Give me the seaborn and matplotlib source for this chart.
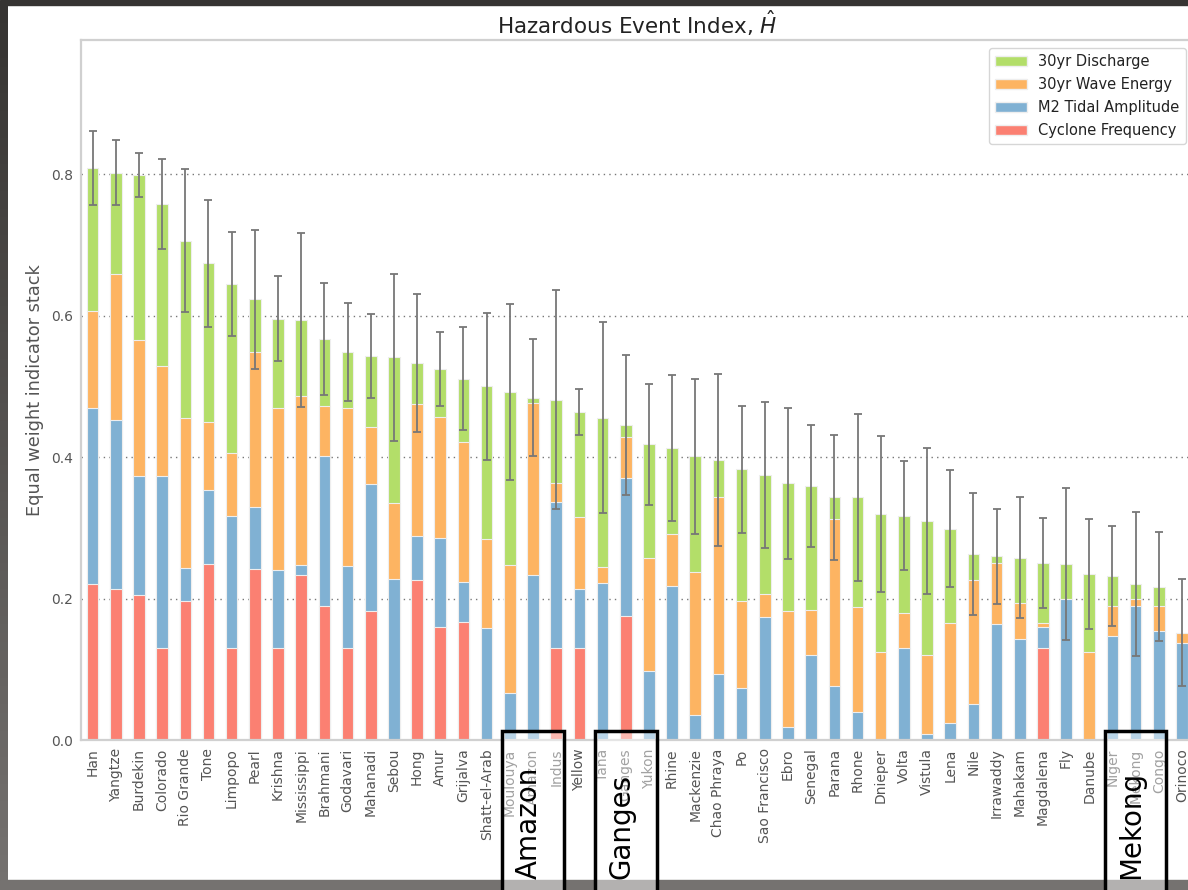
import matplotlib
matplotlib.use("Agg")
import matplotlib.pyplot as plt
import matplotlib.transforms as mtransforms
from matplotlib.colors import LinearSegmentedColormap
from matplotlib.patches import Patch, Rectangle
import numpy as np
import pandas as pd
import seaborn as sns

rivers = ["Han", "Yangtze", "Burdekin", "Colorado", "Rio Grande", "Tone", "Limpopo",
          "Pearl", "Krishna", "Mississippi", "Brahmani", "Godavari", "Mahanadi", "Sebou",
          "Hong", "Amur", "Grijalva", "Shatt-el-Arab", "Moulouya", "Amazon", "Indus",
          "Yellow", "Tana", "Ganges", "Yukon", "Rhine", "Mackenzie", "Chao Phraya", "Po",
          "Sao Francisco", "Ebro", "Senegal", "Parana", "Rhone", "Dnieper", "Volta",
          "Vistula", "Lena", "Nile", "Irrawaddy", "Mahakam", "Magdalena", "Fly", "Danube",
          "Niger", "Mekong", "Congo", "Orinoco"]

cyclone = [0.220, 0.213, 0.205, 0.130, 0.197, 0.249, 0.130, 0.242, 0.130, 0.234,
           0.190, 0.130, 0.182, 0.0, 0.226, 0.160, 0.167, 0.0, 0.0, 0.0,
           0.130, 0.130, 0.0, 0.175, 0.0, 0.0, 0.0, 0.0, 0.0, 0.0,
           0.0, 0.0, 0.0, 0.0, 0.0, 0.0, 0.0, 0.0, 0.0, 0.0,
           0.0, 0.130, 0.0, 0.0, 0.0, 0.0, 0.0, 0.0]
tidal = [0.250, 0.239, 0.169, 0.244, 0.046, 0.105, 0.187, 0.088, 0.110, 0.014,
         0.211, 0.116, 0.180, 0.228, 0.063, 0.126, 0.056, 0.158, 0.066, 0.234,
         0.207, 0.083, 0.222, 0.196, 0.098, 0.218, 0.035, 0.094, 0.073, 0.174,
         0.018, 0.120, 0.077, 0.039, 0.0, 0.130, 0.008, 0.024, 0.051, 0.164,
         0.143, 0.030, 0.200, 0.0, 0.147, 0.190, 0.154, 0.137]
wave = [0.137, 0.207, 0.192, 0.155, 0.213, 0.096, 0.089, 0.219, 0.229, 0.239,
        0.071, 0.223, 0.081, 0.107, 0.186, 0.171, 0.199, 0.126, 0.182, 0.243,
        0.027, 0.102, 0.022, 0.058, 0.160, 0.074, 0.202, 0.249, 0.124, 0.032,
        0.165, 0.064, 0.235, 0.149, 0.124, 0.049, 0.112, 0.142, 0.175, 0.086,
        0.051, 0.006, 0.0, 0.124, 0.043, 0.010, 0.036, 0.015]
discharge = [0.202, 0.143, 0.233, 0.229, 0.250, 0.224, 0.239, 0.074, 0.127, 0.107,
             0.095, 0.080, 0.100, 0.206, 0.058, 0.068, 0.089, 0.216, 0.244, 0.007,
             0.117, 0.149, 0.212, 0.017, 0.160, 0.121, 0.164, 0.053, 0.186, 0.169,
             0.180, 0.175, 0.031, 0.155, 0.196, 0.138, 0.190, 0.133, 0.037, 0.010,
             0.064, 0.084, 0.049, 0.111, 0.042, 0.021, 0.027, 0.0]
# half width of the error bar drawn on top of each stack
spread = [0.053, 0.046, 0.031, 0.063, 0.101, 0.090, 0.074, 0.098, 0.060, 0.123,
          0.079, 0.069, 0.060, 0.118, 0.098, 0.052, 0.073, 0.104, 0.124, 0.083,
          0.155, 0.033, 0.135, 0.099, 0.085, 0.103, 0.110, 0.122, 0.090, 0.103,
          0.107, 0.086, 0.088, 0.118, 0.110, 0.077, 0.103, 0.083, 0.086, 0.067,
          0.086, 0.064, 0.107, 0.078, 0.071, 0.102, 0.077, 0.075]

highlighted = ["Amazon", "Ganges", "Mekong"]

layers = ["Cyclone Frequency", "M2 Tidal Amplitude", "30yr Wave Energy", "30yr Discharge"]
colors = {"Cyclone Frequency": "#fb8072", "M2 Tidal Amplitude": "#80b1d3",
          "30yr Wave Energy": "#fdb462", "30yr Discharge": "#b3de69"}

df = pd.DataFrame({"river": rivers,
                   "Cyclone Frequency": cyclone,
                   "M2 Tidal Amplitude": tidal,
                   "30yr Wave Energy": wave,
                   "30yr Discharge": discharge})
stacked = df[layers].cumsum(axis=1)
stacked["river"] = df["river"]

sns.set_style("white")
W, H = 1188, 890
fig = plt.figure(figsize=(W / 100, H / 100), dpi=100)
ax = fig.add_axes([81 / W, 1 - 740 / H, (1193.6 - 81) / W, 700 / H])

# draw the cumulative heights from the top layer down so each shows as a segment
for layer in layers[::-1]:
    sns.barplot(data=stacked, x="river", y=layer, color=colors[layer], width=0.5,
                saturation=1, edgecolor="#eeeeee", linewidth=0.8, ax=ax)

n = len(rivers)
ax.errorbar(np.arange(n), stacked["30yr Discharge"], yerr=spread, fmt="none",
            ecolor="#777777", elinewidth=1.3, capsize=3.2, capthick=1.3, zorder=5)

ax.set_xlim(-0.5, n - 0.5)
ax.set_ylim(0, 0.99)
ax.set_yticks([0.0, 0.2, 0.4, 0.6, 0.8])
ax.set_yticklabels(["0.0", "0.2", "0.4", "0.6", "0.8"])
ax.set_xticks(range(n))
ax.set_xticklabels(rivers, rotation=90)
ax.tick_params(axis="both", length=0, labelsize=10, labelcolor="#555555", pad=6)
ax.yaxis.grid(True, linestyle=(0, (1, 3)), color="#777777", linewidth=1)
ax.set_axisbelow(True)
for side in ["left", "top", "bottom"]:
    ax.spines[side].set_color("#d0d0d0")
    ax.spines[side].set_linewidth(1.6)
ax.spines["right"].set_visible(False)

ax.set_xlabel("")
ax.set_ylabel("Equal weight indicator stack", fontsize=12.8, color="#555555", labelpad=5)
ax.set_title("Hazardous Event Index, $\\hat{H}$", fontsize=15.5, color="#222222", pad=4)

handles = [Patch(facecolor=colors[l], edgecolor="#eeeeee", label=l) for l in layers[::-1]]
leg = ax.legend(handles=handles, loc="upper right", fontsize=10.5, frameon=True,
                borderaxespad=0.55, handlelength=2.2, labelspacing=0.55)
leg.get_frame().set_edgecolor("#cccccc")
for t in leg.get_texts():
    t.set_color("#222222")

# screenshot frame
fig.add_artist(Rectangle((0, 1 - 5 / H), 1, 5 / H, transform=fig.transFigure,
                         color="#363432", zorder=1))
fig.add_artist(Rectangle((0, 0), 1, 10 / H, transform=fig.transFigure,
                         color="#757270", zorder=1))
edge = fig.add_axes([0, 0, 8 / W, 1 - 5 / H])
edge.imshow(np.linspace(0, 1, 100).reshape(-1, 1), aspect="auto",
            cmap=LinearSegmentedColormap.from_list("edge", ["#363432", "#757270"]))
edge.axis("off")

# highlight boxes around the named rivers
mark = mtransforms.blended_transform_factory(ax.transData, fig.transFigure)
for name in highlighted:
    i = rivers.index(name)
    fig.add_artist(Rectangle((i - 1.33, -0.02), 2.66, 0.02 + (H - 731) / H, transform=mark,
                             facecolor=(1, 1, 1, 0.45), edgecolor="black",
                             linewidth=2.5, zorder=3))
    fig.text(i - 0.2, 0.012, name, transform=mark, rotation=90, ha="center",
             va="bottom", fontsize=20, color="black", zorder=4)

fig.savefig("out.png", dpi=100)
